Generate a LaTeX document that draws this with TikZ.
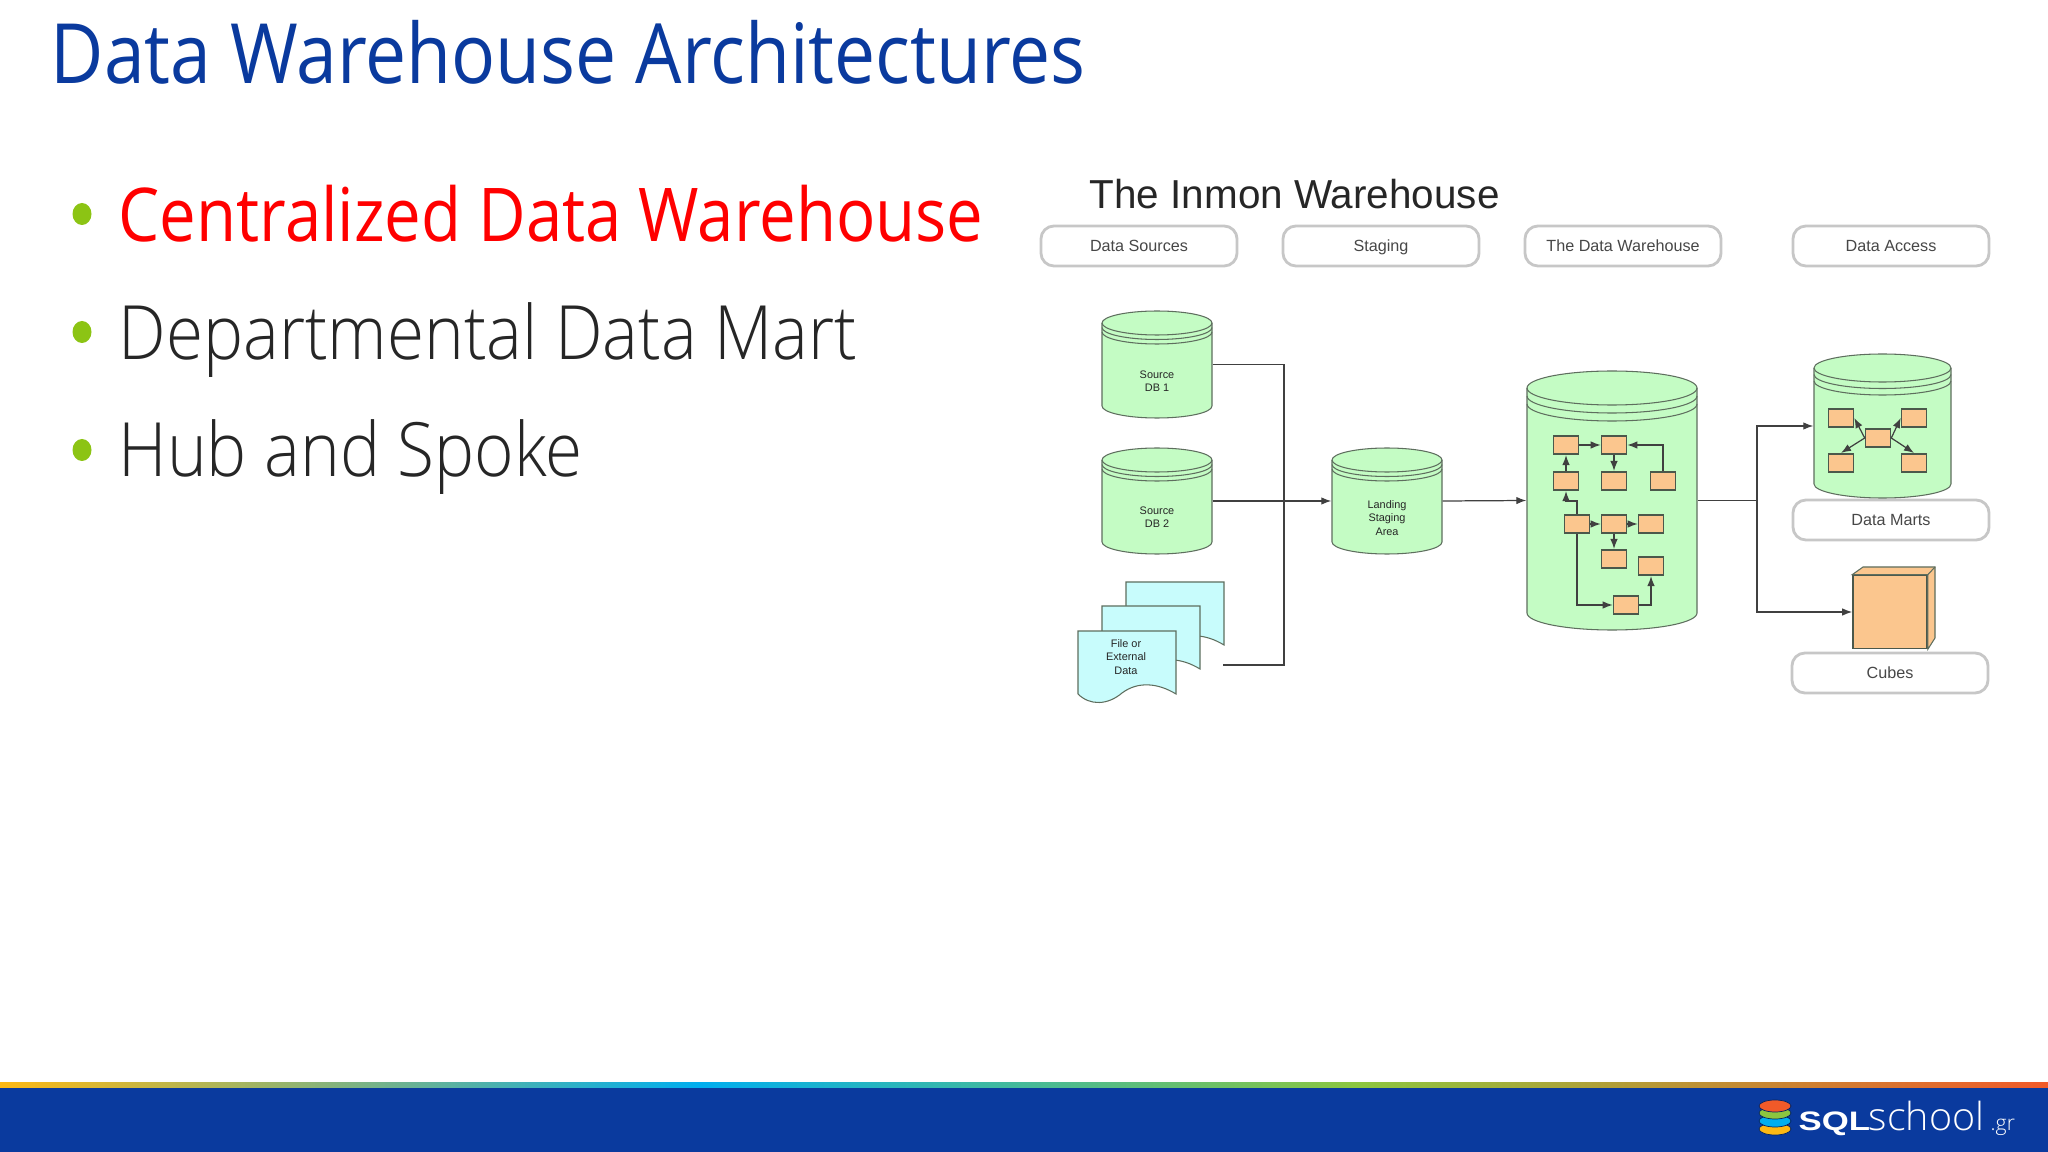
\documentclass[tikz,border=0pt]{standalone}
\usepackage{fontspec}
\setmainfont{Open Sans}[UprightFont=* Light]
\newfontfamily\slidelight{Open Sans}[UprightFont=* Light,FakeStretch=0.9]
\newfontfamily\slidereg{Open Sans}[FakeStretch=0.88]
\newfontfamily\logowide{Open Sans}[UprightFont=* Light,FakeStretch=1.02]
\newfontfamily\arialfont{Liberation Sans}
\newfontfamily\arialwide{Liberation Sans}[FakeStretch=1.3]
\usetikzlibrary{arrows.meta}
\definecolor{slideblue}{HTML}{0A3A9E}
\definecolor{bulletgreen}{HTML}{8CC414}
\definecolor{dbgreen}{HTML}{C4FCC4}
\definecolor{boxorange}{HTML}{FBC68E}
\definecolor{sheetblue}{HTML}{C8FCFC}
\definecolor{outline}{HTML}{5E6E5E}
\definecolor{stripamber}{HTML}{FDB813}
\definecolor{stripcyan}{HTML}{00AEEF}
\definecolor{striplime}{HTML}{8CC63F}
\definecolor{stripred}{HTML}{F15A29}
\tikzset{
  px/.style={x=0.01cm,y=-0.01cm},
  slide text/.style={anchor=base west,inner sep=0pt,font=\slidelight\fontsize{21.3}{22}\selectfont},
  head box/.style={draw=black!22,line width=0.8pt,rounded corners=1.3mm,fill=white,minimum width=1.96cm,minimum height=0.4cm,inner sep=0pt,text height=3.4pt,text depth=0.5pt,text=black!72,font=\arialfont\fontsize{4.6}{5}\selectfont},
  db text/.style={align=center,inner sep=0pt,text=black!85,font=\arialfont\fontsize{3.1}{3.8}\selectfont},
  step box/.style={draw=outline!80!black,fill=boxorange,line width=0.45pt,minimum width=0.25cm,minimum height=0.185cm,inner sep=0pt},
  wire/.style={draw=black!75,line width=0.35pt},
  flow/.style={wire,-{Latex[length=1mm,width=0.75mm]}}
}
% cylinder: name, left, right, top, bottom, ry, gap
\newcommand{\dbdrum}[7]{
  \path[fill=dbgreen,draw=outline,line width=0.3pt] (#2,#4+#6) -- (#2,#5-#6) arc[start angle=180,end angle=0,x radius={(#3-#2)/2},y radius=#6]
    -- (#3,#4+#6) arc[start angle=0,end angle=-180,x radius={(#3-#2)/2},y radius=#6] -- cycle;
  \foreach \k in {0,1,2}
    \draw[draw=outline,line width=0.3pt] (#2,#4+#6+\k*#7) arc[start angle=180,end angle=0,x radius={(#3-#2)/2},y radius=#6];
  \node[minimum width={(#3-#2)*0.01cm},minimum height={(#5-#4)*0.01cm},inner sep=0pt] (#1) at ({(#2+#3)/2},{(#4+#5)/2}) {};
}
% paper sheet: left, top
\newcommand{\papersheet}[2]{
  \path[fill=sheetblue,draw=outline,line width=0.3pt] (#1,#2) -- (#1+98,#2) -- (#1+98,#2+63)
    .. controls (#1+80,#2+52) and (#1+60,#2+50) .. (#1+44,#2+62) .. controls (#1+30,#2+74) and (#1+12,#2+75) .. (#1,#2+63) -- cycle;
}
\begin{document}
\begin{tikzpicture}[px]
  \useasboundingbox (0,0) rectangle (2048,1152);
  \fill[white] (0,0) rectangle (2048,1152);

  % slide text
  \node[slide text,text=slideblue,font=\slidereg\fontsize{23.65}{26}\selectfont] (title) at (50,84) {Data Warehouse Architectures};
  \node[slide text,text=red,font=\slidereg\fontsize{21.1}{22}\selectfont] (item1) at (118,242) {Centralized Data Warehouse};
  \node[slide text,text=black!85] (item2) at (118,360) {Departmental Data Mart};
  \node[slide text,text=black!85] (item3) at (118,477) {Hub and Spoke};
  \foreach \y in {214,332,450}
    \fill[bulletgreen] (82,\y) circle[x radius=9.5,y radius=11];

  % footer
  \shade[left color=stripamber,right color=stripcyan] (0,1082) rectangle (700,1088);
  \shade[left color=stripcyan,right color=striplime] (700,1082) rectangle (1358,1088);
  \shade[left color=striplime,right color=stripred] (1358,1082) rectangle (2048,1088);
  \fill[slideblue] (0,1088) rectangle (2048,1152);
  \foreach \y/\c in {1129/stripamber,1121/stripcyan,1113/striplime,1106/stripred}
    \fill[\c,draw=slideblue!60!black,line width=0.2pt] (1775,\y) ellipse[x radius=16,y radius=6];
  \node[anchor=base west,inner sep=0pt,text=white,font=\arialwide\bfseries\fontsize{7.6}{9}\selectfont] (logosql) at (1798,1130) {SQL};
  \node[anchor=base west,inner sep=0pt,text=white,font=\logowide\fontsize{11}{12}\selectfont] (logoschool) at (1868,1130) {school};
  \node[anchor=base west,inner sep=0pt,text=white,font=\fontsize{6}{7}\selectfont] (logogr) at (1990,1130) {.gr};

  % diagram header
  \node[anchor=base west,inner sep=0pt,text=black!85,font=\arialfont\fontsize{11.5}{12}\selectfont] (inmon) at (1089,209) {The Inmon Warehouse};
  \node[head box] (sources) at (1139,246) {Data Sources};
  \node[head box] (staging) at (1381,246) {Staging};
  \node[head box] (warehouse) at (1623,246) {The Data Warehouse};
  \node[head box] (access) at (1891,246) {Data Access};
  \node[head box] (martslabel) at (1891,520) {Data Marts};
  \node[head box] (cubeslabel) at (1890,673) {Cubes};

  % cylinders
  \dbdrum{db1}{1102}{1212}{311}{418}{12}{4.5}
  \dbdrum{db2}{1102}{1212}{448}{554}{12}{4.5}
  \dbdrum{landing}{1332}{1442}{448}{554}{12}{4.5}
  \dbdrum{big}{1527}{1697}{371}{630}{17}{8}
  \dbdrum{marts}{1814}{1951}{354}{498}{14}{6.5}
  \node[db text] (db1text) at (1157,381) {Source\\DB 1};
  \node[db text] (db2text) at (1157,517) {Source\\DB 2};
  \node[db text] (landingtext) at (1387,518) {Landing\\Staging\\Area};

  % files
  \papersheet{1126}{582}
  \papersheet{1102}{606}
  \papersheet{1078}{631}
  \node[db text] (filetext) at (1126,657) {File or\\External\\Data};

  % warehouse boxes
  \node[step box] (w1) at (1566,445) {};
  \node[step box] (w2) at (1614,445) {};
  \node[step box] (w3) at (1566,481) {};
  \node[step box] (w4) at (1614,481) {};
  \node[step box] (w5) at (1663,481) {};
  \node[step box] (w6) at (1577,524) {};
  \node[step box] (w7) at (1614,524) {};
  \node[step box] (w8) at (1651,524) {};
  \node[step box] (w9) at (1614,559) {};
  \node[step box] (w10) at (1651,566) {};
  \node[step box] (w11) at (1626,605) {};
  \draw[flow] (w1) -- (w2);
  \draw[flow] (w2) -- (w4);
  \draw[flow] (w3) -- (w1);
  \draw[flow] (w5.north) |- (w2.east);
  \draw[flow] (w6.north) |- (1566,501) -- (w3.south);
  \draw[flow] (w6) -- (w7);
  \draw[flow] (w7) -- (w8);
  \draw[flow] (w7) -- (w9);
  \draw[flow] (w6.south) |- (w11.west);
  \draw[flow] (w11.east) -| (w10.south);

  % mart boxes
  \node[step box] (m1) at (1841,418) {};
  \node[step box] (m2) at (1914,418) {};
  \node[step box] (m3) at (1878,438) {};
  \node[step box] (m4) at (1841,463) {};
  \node[step box] (m5) at (1914,463) {};
  \draw[flow] (m3.west) -- (m1.east);
  \draw[flow] (m3.east) -- (m2.west);
  \draw[flow] (m3.west) -- (m4.north);
  \draw[flow] (m3.east) -- (m5.north);

  % cube
  \node[step box,minimum width=0.74cm,minimum height=0.73cm] (cube) at (1890,612) {};
  \path[fill=boxorange,draw=outline,line width=0.3pt] (cube.north west) -- (1863,567) -- (1935,567) -- (1935,638) -- (cube.south east) -- (cube.north east) -- cycle;
  \draw[draw=outline,line width=0.3pt] (cube.north east) -- (1935,567);

  % connectors
  \coordinate (fileout) at (1223,665);
  \coordinate (merge) at (1284,500.5);
  \coordinate (split) at (1757,500.5);
  \draw[wire] (db1.east) -| (merge);
  \draw[wire] (fileout) -| (merge);
  \draw[flow] (db2.east) -- (landing.west);
  \draw[flow] (landing.east) -- (big.west);
  \draw[wire] (big.east) -- (split);
  \draw[flow] (split) |- (marts.west);
  \draw[flow] (split) |- (cube.west);
\end{tikzpicture}
\end{document}
